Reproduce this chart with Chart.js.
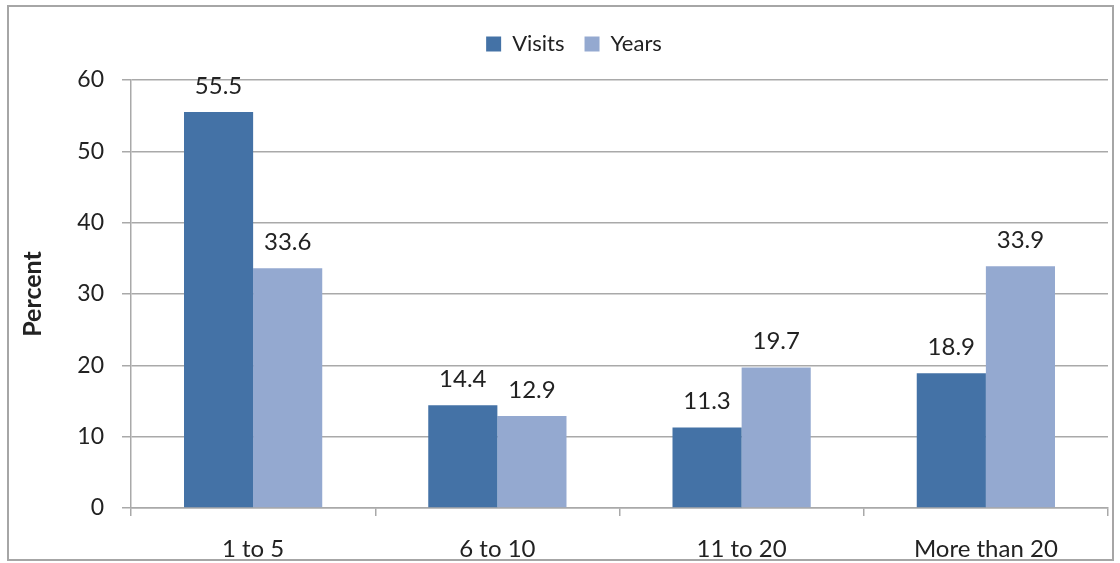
<!DOCTYPE html>
<html>
<head>
<meta charset="utf-8">
<script src="https://cdn.jsdelivr.net/npm/chart.js@4"></script>
<style>
  html, body { margin: 0; padding: 0; background: #fff; }
  #wrap { width: 1120px; height: 563px; }
</style>
</head>
<body>
<div id="wrap"><canvas id="chart" width="1120" height="563"></canvas></div>
<script>
const categories = ["1 to 5", "6 to 10", "11 to 20", "More than 20"];
const visits = [55.5, 14.4, 11.3, 18.9];
const years = [33.6, 12.9, 19.7, 33.9];
const yTicks = [0, 10, 20, 30, 40, 50, 60];

const FONT = "Lato, 'Open Sans', sans-serif";
const gridColor = "#a9a9a9";

// draw the values above each bar
const barValues = {
  id: "barValues",
  afterDatasetsDraw(chart) {
    const ctx = chart.ctx;
    ctx.save();
    ctx.font = "24px " + FONT;
    ctx.fillStyle = "#222";
    ctx.textAlign = "center";
    ctx.textBaseline = "alphabetic";
    chart.data.datasets.forEach((ds, i) => {
      chart.getDatasetMeta(i).data.forEach((bar, j) => {
        ctx.fillText(ds.data[j].toFixed(1), bar.x, bar.y - 18);
      });
    });
    ctx.restore();
  },
};

// thin frame round the whole chart
const frame = {
  id: "frame",
  beforeDraw(chart) {
    const ctx = chart.ctx;
    ctx.save();
    ctx.strokeStyle = "#a6a6a6";
    ctx.lineWidth = 2;
    ctx.strokeRect(8, 6, 1105, 554);
    ctx.restore();
  },
};

// extra room under the legend, and nudge it a bit right/down
const legendGap = {
  id: "legendGap",
  beforeLayout(chart) {
    const lg = chart.legend;
    if (lg && !lg._gapPatched) {
      const fit = lg.fit;
      lg.fit = function () {
        fit.call(this);
        this.height += 28;
      };
      const draw = lg.draw;
      lg.draw = function () {
        this.ctx.save();
        this.ctx.translate(20, 13);
        draw.apply(this, arguments);
        this.ctx.restore();
      };
      lg._gapPatched = true;
    }
  },
};

new Chart(document.getElementById("chart"), {
  type: "bar",
  data: {
    labels: categories,
    datasets: [
      { label: "Visits", data: visits, backgroundColor: "#4472a6" },
      { label: "Years", data: years, backgroundColor: "#94a9d0" },
    ],
  },
  options: {
    responsive: false,
    animation: false,
    events: [],
    layout: { padding: { top: 0, right: 12, bottom: 0, left: 0 } },
    datasets: {
      bar: { categoryPercentage: 0.566, barPercentage: 1 },
    },
    plugins: {
      legend: {
        position: "top",
        labels: {
          font: { family: FONT, size: 22 },
          color: "#222",
          boxWidth: 15,
          boxHeight: 15,
          padding: 20,
        },
      },
      tooltip: { enabled: false },
    },
    scales: {
      x: {
        afterFit: (s) => { s.height = 55; },
        grid: {
          display: true,
          offset: true,
          drawOnChartArea: false,
          drawTicks: true,
          tickLength: 8,
          color: gridColor,
          lineWidth: 1.5,
        },
        border: { display: true, color: gridColor, width: 1.5 },
        ticks: {
          font: { family: FONT, size: 24 },
          color: "#222",
          padding: 19,
        },
      },
      y: {
        min: 0,
        max: 60,
        afterFit: (s) => { s.width = 131; },
        afterBuildTicks: (s) => { s.ticks = yTicks.map((v) => ({ value: v })); },
        grid: {
          color: gridColor,
          lineWidth: 1.5,
          tickLength: 9,
        },
        border: { display: true, color: gridColor, width: 1.5 },
        ticks: {
          font: { family: FONT, size: 23 },
          color: "#222",
          padding: 18,
        },
        title: {
          display: true,
          text: "Percent",
          font: { family: FONT, size: 25, weight: "bold" },
          color: "#222",
          padding: { top: 18, bottom: 0 },
        },
      },
    },
  },
  plugins: [frame, legendGap, barValues],
});
</script>
</body>
</html>
